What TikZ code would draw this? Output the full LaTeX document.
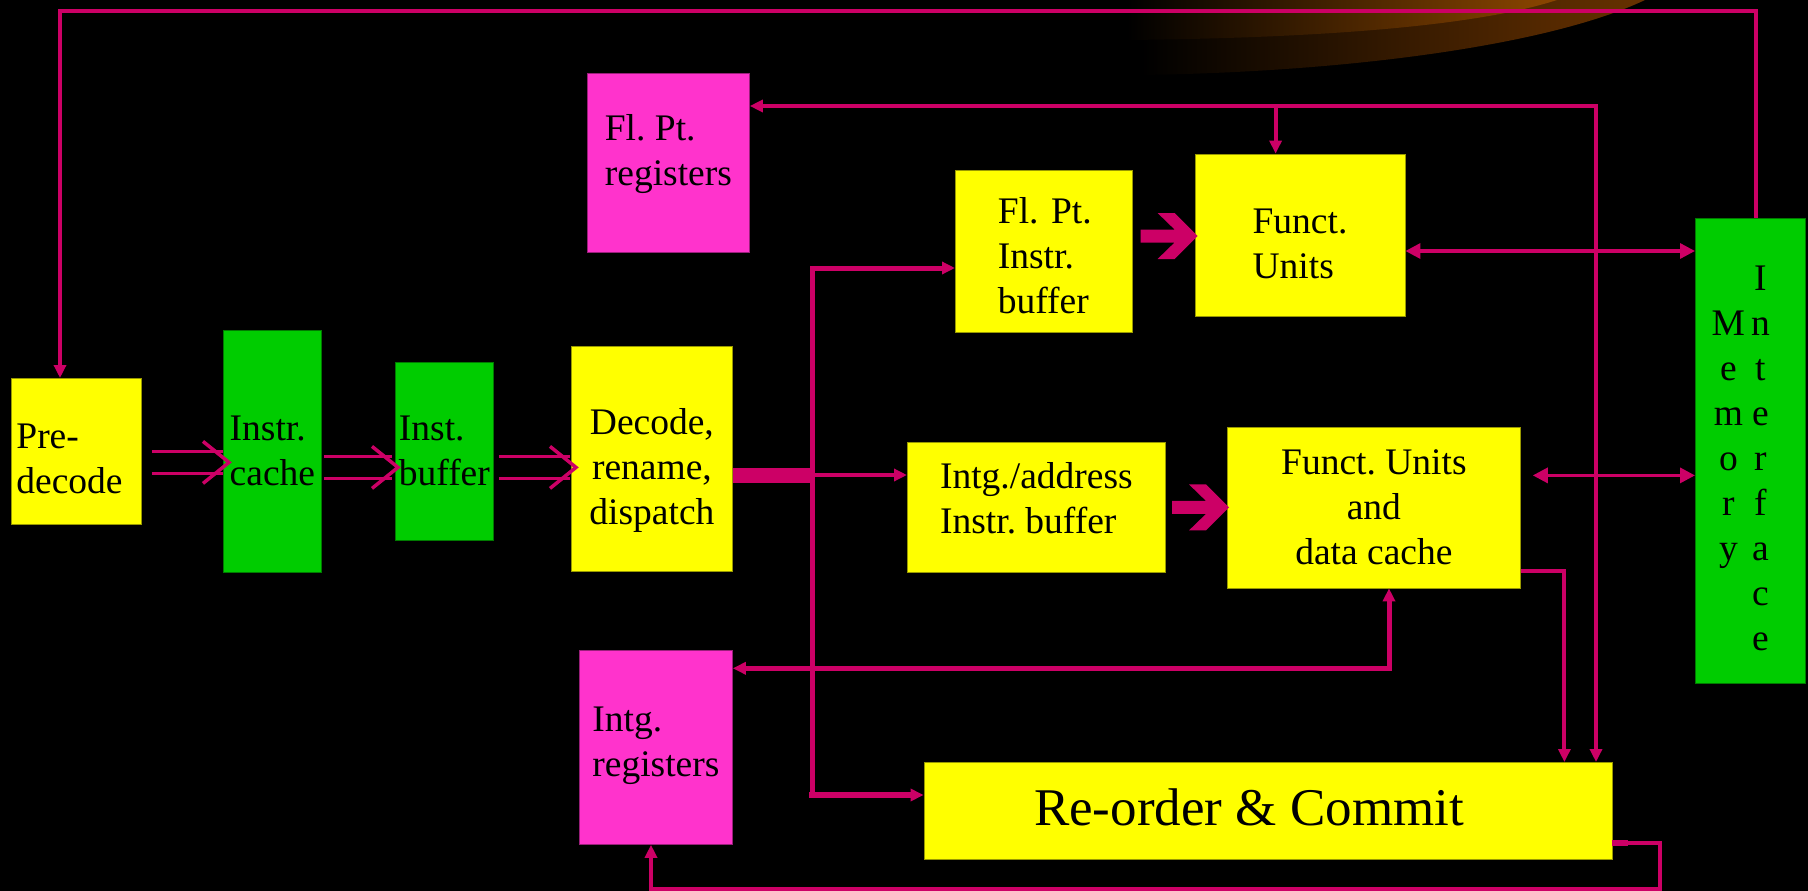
\documentclass[tikz,border=0pt]{standalone}
\usepackage{fontspec}
\setmainfont{Liberation Serif}
\usetikzlibrary{arrows.meta,calc}

\definecolor{linkcol}{HTML}{CC0066}
\definecolor{ylw}{HTML}{FFFF00}
\definecolor{grn}{HTML}{00CC00}
\definecolor{pnk}{HTML}{FF33CC}
\definecolor{glowA}{HTML}{8C4600}
\definecolor{glowB}{HTML}{683200}

% extra height / depth for a line of node text
\newcommand\addht[1]{\rule{0pt}{#1}}
\newcommand\adddp[1]{\rule[-#1]{0pt}{#1}}
% one row of the two stacked words in the memory box
\newcommand\mrow[2]{\makebox[34pt]{#1}\makebox[30pt]{#2}\makebox[14pt]{}}

% double-shafted open arrow from start #1 to tip #2
\newcommand\dblarr[2]{%
  \draw[link,line width=3.5pt] ($(#1)+(0,-11)$) -- ($(#2)+(-6,-11)$);
  \draw[link,line width=3.5pt] ($(#1)+(0,11)$) -- ($(#2)+(-6,11)$);
  \draw[link,line width=3.5pt,line join=miter] ($(#2)+(-26,-21)$) -- (#2) -- ($(#2)+(-26,21)$);}

% solid block arrow ending at tip #1
\newcommand\fatarr[1]{%
  \fill[linkcol] ($(#1)+(-57,-6.5)$) -- ($(#1)+(-23,-6.5)$) -- ($(#1)+(-40,-23)$)
    -- ($(#1)+(-23,-23)$) -- (#1) -- ($(#1)+(-23,23)$) -- ($(#1)+(-40,23)$)
    -- ($(#1)+(-23,6.5)$) -- ($(#1)+(-57,6.5)$) -- cycle;}

\begin{document}
\frenchspacing
\begin{tikzpicture}[x=1pt,y=-1pt,
  box/.style={fill=#1, draw=#1!60!black, line width=0.8pt, inner sep=0pt,
    anchor=north west, text=black, font=\fontsize{37.5}{45}\selectfont},
  link/.style={draw=linkcol, line width=4pt},
  arr/.style={-{Triangle[length=13pt,width=12pt]}},
  darr/.style={{Triangle[length=13pt,width=12pt]}-{Triangle[length=13pt,width=12pt]}},
  bigarr/.style={{Triangle[length=15pt,width=15pt]}-{Triangle[length=15pt,width=15pt]}},
]
\fill[black] (0,0) rectangle (1808,891);
\useasboundingbox (0,0) rectangle (1808,891);

% glow in the top corner
\shade[left color=black, right color=glowB] (1141,0) -- (1141,75)
  .. controls (1350,72) and (1550,45) .. (1645,0) -- cycle;
\shade[left color=black, right color=glowA] (1127,0) -- (1127,40)
  .. controls (1330,38) and (1480,25) .. (1557,0) -- cycle;

% blocks
\node[box=ylw, minimum width=130, minimum height=146, text width=120, inner xsep=5, align=left]
  (pre) at (11,378) {\addht{38.8pt}Pre-\\decode};
\node[box=grn, minimum width=98, minimum height=242, align=left]
  (cache) at (223,330) {Instr.\\cache};
\node[box=grn, minimum width=98, minimum height=178, align=left]
  (ibuf) at (395,362) {Inst.\\buffer};
\node[box=ylw, minimum width=161, minimum height=225, align=center]
  (decode) at (571,346) {\addht{48.6pt}Decode,\\rename,\\dispatch};
\node[box=pnk, minimum width=162, minimum height=179, align=left]
  (fpreg) at (587,73) {Fl. Pt.\\registers\adddp{25pt}};
\node[box=ylw, minimum width=177, minimum height=162.5, text width=92, inner xsep=42.5, align=left]
  (fpbuf) at (955,169.5) {\addht{34.6pt}\mbox{Fl. Pt.}\\Instr.\\buffer};
\node[box=ylw, minimum width=210, minimum height=162, align=left]
  (fu1) at (1194.6,153.6) {\addht{41.6pt}Funct.\\Units};
\node[box=ylw, minimum width=258, minimum height=130, align=left]
  (ibuf2) at (907,441.7) {Intg./address\\Instr. buffer\adddp{18pt}};
\node[box=ylw, minimum width=293, minimum height=161, align=center]
  (fu2) at (1227,426.5) {Funct. Units\\and\\data cache};
\node[box=pnk, minimum width=153, minimum height=194, align=left]
  (intreg) at (579,650) {Intg.\\registers\adddp{12pt}};
\node[box=ylw, minimum width=688, minimum height=97, font=\fontsize{53}{60}\selectfont]
  (reorder) at (923.6,762) {Re-order \& Commit\adddp{7pt}\hspace{38pt}\null};
\node[box=grn, minimum width=110, minimum height=465, align=center]
  (mem) at (1695,218) {\addht{39pt}\mrow{}{I}\\\mrow{M}{n}\\\mrow{e}{t}\\\mrow{m}{e}\\
    \mrow{o}{r}\\\mrow{r}{f}\\\mrow{y}{a}\\\mrow{}{c}\\\mrow{}{e}};

% fetch path
\coordinate (t1) at ($(cache.west)+(6,11)$);
\coordinate (s1) at ($(pre.east |- t1)+(10,0)$);
\coordinate (t2) at ($(ibuf.west)+(3,16)$);
\coordinate (s2) at ($(cache.east |- t2)+(2,0)$);
\coordinate (t3) at ($(decode.west)+(5,8.5)$);
\coordinate (s3) at ($(ibuf.east |- t3)+(5,0)$);
\dblarr{s1}{t1}
\dblarr{s2}{t2}
\dblarr{s3}{t3}

% memory back to predecode
\coordinate (memtop) at ($(mem.north west)+(61,0)$);
\coordinate (pretop) at ($(pre.north west)+(49,0)$);
\draw[link, arr] (memtop) -- ++(0,-207) -| (pretop);

% floating point result bus
\coordinate (bus) at (1596,106);
\coordinate (fub) at ($(fu1.north west)+(81,0)$);
\draw[link, darr] (fpreg.east |- bus) -- (bus) -- (reorder.north -| bus);
\draw[link, arr] (fub |- bus) -- (fub);

% functional units to memory interface
\coordinate (m1) at ($(fu1.east)+(0,16)$);
\draw[link, line width=3.2pt, bigarr] (m1) -- (mem.west |- m1);
\coordinate (m2) at ($(fu2.east)+(12,-32)$);
\draw[link, line width=3.2pt, bigarr] (m2) -- (mem.west |- m2);

% dispatch
\coordinate (j) at (812,475);
\coordinate (jt) at (812,268);
\coordinate (jb) at (812,795);
\draw[link, line width=15pt] (decode.east |- j) -- (j);
\draw[link, line width=5pt, arr] (jb) -- (jt) -- (fpbuf.west |- jt);
\draw[link, arr] (j) -- (ibuf2.west |- j);
\draw[link, line width=6pt, line cap=rect, arr] (jb) -- (reorder.west |- jb);

% issue
\coordinate (f1) at ($(fu1.west)+(3,1)$);
\coordinate (f2) at ($(fu2.west)+(2,0)$);
\fatarr{f1}
\fatarr{f2}

% integer registers and data cache
\coordinate (k) at ($(fu2.south west)+(162,80)$);
\draw[link, line width=5pt, darr] (intreg.east |- k) -- (k) -- (fu2.south -| k);

% completion into re-order
\draw[link, arr] ($(fu2.south east)+(0,-17)$) -| ($(reorder.north east)+(-48,0)$);

% commit back to integer registers
\draw[link, line width=6pt] ($(reorder.east)+(0,32)$) -- ++(16,0);
\draw[link, arr] ($(reorder.east)+(0,32)$) -- ++(48,0) -- ++(0,46.5)
  -| ($(intreg.south west)+(72,0)$);
\end{tikzpicture}
\end{document}
